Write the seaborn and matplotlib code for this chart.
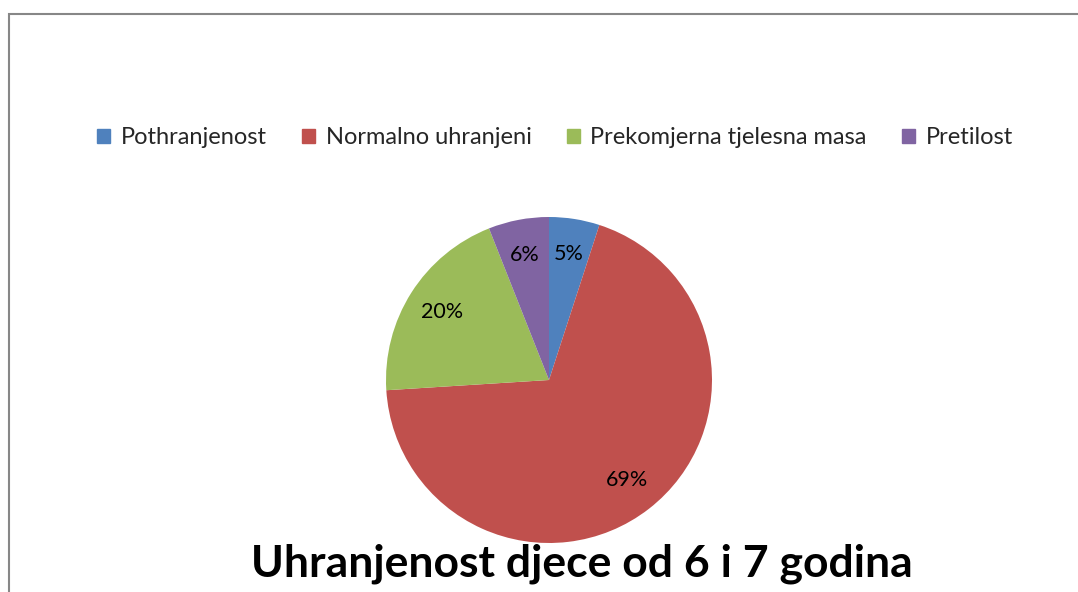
import matplotlib
matplotlib.use("Agg")
import matplotlib.pyplot as plt
import matplotlib.patches as mpatches
import seaborn as sns

# values (percent)
categories = ["Pothranjenost", "Normalno uhranjeni", "Prekomjerna tjelesna masa", "Pretilost"]
shares = [5, 69, 20, 6]
colors = ["#4F81BD", "#C0504D", "#9BBB59", "#8064A2"]
title = "Uhranjenost djece od 6 i 7 godina"

sns.set_theme(style="white")
plt.rcParams["font.family"] = ["Lato", "DejaVu Sans"]

W, H = 1078, 592
fig = plt.figure(figsize=(W / 100, H / 100), dpi=100)

# pie axes: centre (549, 380) px, radius 163 px
cx, cy, r = 549, 380, 163
ax = fig.add_axes([(cx - r) / W, (H - cy - r) / H, 2 * r / W, 2 * r / H])
palette = sns.color_palette(colors)
wedges, texts, autotexts = ax.pie(
    shares, colors=palette, startangle=90, counterclock=False,
    autopct="%d%%", pctdistance=0.78, radius=1,
    wedgeprops={"linewidth": 0},
    textprops={"fontsize": 15.5, "color": "#000000"},
)
ax.set_xlim(-1, 1)
ax.set_ylim(-1, 1)
ax.set_aspect("equal")
ax.axis("off")

# legend across the top
handles = [mpatches.Patch(color=c, label=l) for c, l in zip(palette, categories)]
fig.legend(handles=handles, loc="center", bbox_to_anchor=(555 / W, 1 - 138 / H),
           ncol=4, frameon=False, fontsize=17, handlelength=0.55, handleheight=0.55,
           handletextpad=0.45, columnspacing=1.5)

# title at the bottom
fig.text(582 / W, 1 - 577 / H, title, ha="center", va="baseline",
         fontsize=32, fontweight="bold", color="#000000")

# chart border (cropped on right and bottom)
fig.patches.append(mpatches.Rectangle((8.5 / W, -0.1), 2, (H - 13.5) / H + 0.1,
                                      transform=fig.transFigure, fill=False,
                                      edgecolor="#878787", linewidth=1.5))

fig.savefig("out.png", dpi=100)
